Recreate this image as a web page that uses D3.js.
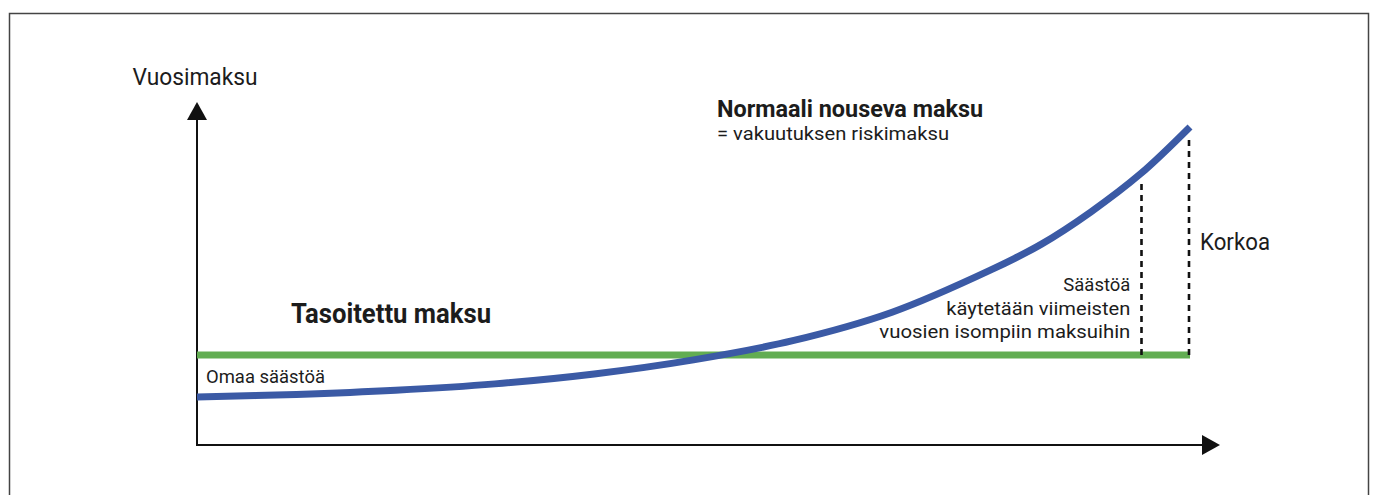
<!DOCTYPE html>
<html>
<head>
<meta charset="utf-8">
<script src="https://cdn.jsdelivr.net/npm/d3@7"></script>
<style>
  html, body { margin: 0; padding: 0; background: #fff; }
  svg { display: block; }
  text { font-family: 'Liberation Sans Narrow', 'Roboto', sans-serif; fill: #1c1c1c; }
</style>
</head>
<body>
<div id="chart"></div>
<script>
// years since the start of the insurance
const years = [0, 4, 8, 12, 16, 20, 24, 28, 32, 34, 36, 38, 40];
// normal rising premium (= risk premium), relative units
const risingPremium = [15.0, 15.8, 17.1, 19.1, 22.2, 26.6, 32.6, 41.5, 54.8, 62.7, 72.8, 84.7, 99.4];
// levelled premium, flat over the whole period
const levelPremium = 28.1;
// years where the dashed markers stand
const markerYears = [38, 40];

const axisLabel = 'Vuosimaksu';
const risingTitle = 'Normaali nouseva maksu';
const risingSubtitle = '= vakuutuksen riskimaksu';
const levelTitle = 'Tasoitettu maksu';
const ownSavingsLabel = 'Omaa säästöä';
const interestLabel = 'Korkoa';
const savingsLines = ['Säästöä', 'käytetään viimeisten', 'vuosien isompiin maksuihin'];

const width = 1375, height = 495;
const blue = '#3b5aa5', green = '#62ad52', ink = '#111';

const svg = d3.select('#chart').append('svg')
  .attr('width', width)
  .attr('height', height);

// frame
svg.append('rect')
  .attr('x', 9.5).attr('y', 13.5)
  .attr('width', 1359).attr('height', 520)
  .attr('fill', 'none')
  .attr('stroke', '#444')
  .attr('stroke-width', 1.5);

const x = d3.scaleLinear().domain([0, 40]).range([197, 1190]);
const y = d3.scaleLinear().domain([0, 100]).range([445, 125]);

// arrow heads
const defs = svg.append('defs');
defs.append('marker')
  .attr('id', 'arrow')
  .attr('markerUnits', 'userSpaceOnUse')
  .attr('viewBox', '0 -10 18 20')
  .attr('refX', 0).attr('refY', 0)
  .attr('markerWidth', 18).attr('markerHeight', 20)
  .attr('orient', 'auto')
  .append('path')
  .attr('d', 'M0,-10L18,0L0,10Z')
  .attr('fill', ink);

// axes
svg.append('line')
  .attr('x1', x(0)).attr('y1', y(0) + 1)
  .attr('x2', x(0)).attr('y2', y.range()[1] - 5)
  .attr('stroke', ink).attr('stroke-width', 2)
  .attr('marker-end', 'url(#arrow)');

svg.append('line')
  .attr('x1', x(0) - 1).attr('y1', y(0))
  .attr('x2', x.range()[1] + 12).attr('y2', y(0))
  .attr('stroke', ink).attr('stroke-width', 2)
  .attr('marker-end', 'url(#arrow)');

// levelled premium
svg.append('line')
  .attr('x1', x(0)).attr('y1', y(levelPremium))
  .attr('x2', x(40)).attr('y2', y(levelPremium))
  .attr('stroke', green).attr('stroke-width', 7);

// dashed markers
const premiumAt = d => risingPremium[years.indexOf(d)];
svg.selectAll('line.marker')
  .data(markerYears)
  .enter()
  .append('line')
  .attr('class', 'marker')
  .attr('x1', d => Math.round(x(d)) + (d === 40 ? -1 : 1.5))
  .attr('x2', d => Math.round(x(d)) + (d === 40 ? -1 : 1.5))
  .attr('y1', d => y(premiumAt(d)) + (d === 40 ? 13 : 10))
  .attr('y2', y(levelPremium) + 3)
  .attr('stroke', ink)
  .attr('stroke-width', 2.6)
  .attr('stroke-dasharray', '6,5');

// rising premium
const line = d3.line()
  .x((d, i) => x(years[i]))
  .y(d => y(d))
  .curve(d3.curveCatmullRom.alpha(0.5));

svg.append('path')
  .datum(risingPremium)
  .attr('d', line)
  .attr('fill', 'none')
  .attr('stroke', blue)
  .attr('stroke-width', 7);

// labels
function label(txt, px, py, size, opts = {}) {
  const t = svg.append('text')
    .attr('x', px).attr('y', py)
    .attr('font-size', size)
    .attr('font-weight', opts.bold ? 700 : 400)
    .attr('text-anchor', opts.anchor || 'start')
    .text(txt);
  if (opts.fit) {
    t.attr('textLength', opts.fit).attr('lengthAdjust', 'spacingAndGlyphs');
  }
  return t;
}

label(axisLabel, x(0) - 2, 85, 24, { anchor: 'middle', fit: 125 });
label(risingTitle, 717, 117, 24, { bold: true, fit: 266 });
label(risingSubtitle, 717, 140, 19, { fit: 232 });
label(interestLabel, x(40) + 10, 250, 23, { fit: 70 });
label(levelTitle, 291, 323, 27, { bold: true, fit: 200 });
label(ownSavingsLabel, x(0) + 9, 383, 19, { fit: 119 });

const savingsWidths = [67, 184, 251];
savingsLines.forEach((s, i) => {
  label(s, x(38) - 10, 291 + i * 23.5, 19, { anchor: 'end', fit: savingsWidths[i] });
});
</script>
</body>
</html>
